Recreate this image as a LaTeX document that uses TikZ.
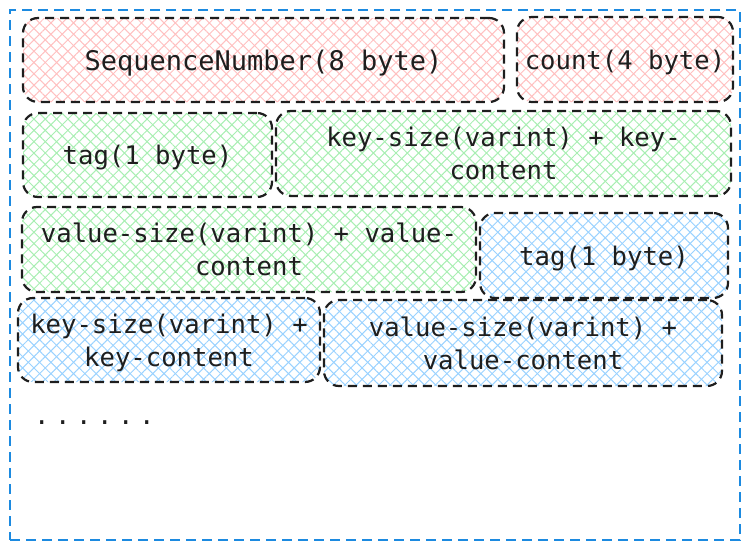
\documentclass[tikz,border=0pt]{standalone}
\usepackage{fontspec}
\setmonofont{DejaVu Sans Mono}
\usetikzlibrary{patterns.meta}
\definecolor{hred}{HTML}{FFC0C0}
\definecolor{hgreen}{HTML}{A8EEB2}
\definecolor{hblue}{HTML}{9AD2FF}
\definecolor{outerblue}{HTML}{1C8AE0}
\definecolor{ink}{HTML}{1E1E1E}
\tikzset{
  field/.style={draw=ink, line width=2.2pt, dash pattern=on 9pt off 6pt,
    rounded corners=15pt, font=\ttfamily\fontsize{25.6}{33}\selectfont,
    align=center, inner sep=0pt, text=ink, text depth=0pt},
  hatch/.style={
    preaction={pattern={Lines[angle=45,distance=8pt,line width=1pt]},pattern color=#1},
    preaction={pattern={Lines[angle=-45,distance=8pt,line width=1pt]},pattern color=#1}},
  outerbox/.style={draw=outerblue, line width=2pt, dash pattern=on 10pt off 6pt},
}
\begin{document}
\begin{tikzpicture}[x=1pt,y=-1pt]
\useasboundingbox (0,0) rectangle (749,549);
\node[outerbox, minimum width=730pt, minimum height=530pt, inner sep=0pt] (frame) at (375,275) {};
\node[field, hatch=hred, minimum width=481pt, minimum height=84pt, font=\ttfamily\fontsize{27}{33}\selectfont] (seq) at (263.5,60) {SequenceNumber(8 byte)};
\node[field, hatch=hred, minimum width=216pt, minimum height=85pt] (cnt) at (625,59.5) {count(4 byte)};
\node[field, hatch=hgreen, minimum width=249pt, minimum height=84pt] (tag1) at (147.5,155) {tag(1 byte)};
\node[field, hatch=hgreen, minimum width=455pt, minimum height=85pt] (key1) at (503.5,153.5) {key-size(varint) + key-\\content};
\node[field, hatch=hgreen, minimum width=454pt, minimum height=85pt] (val1) at (249,249.5) {value-size(varint) + value-\\content};
\node[field, hatch=hblue, minimum width=248pt, minimum height=85pt] (tag2) at (604,255.5) {tag(1 byte)};
\node[field, hatch=hblue, minimum width=302pt, minimum height=84pt] (key2) at (169,340) {key-size(varint) +\\key-content};
\node[field, hatch=hblue, minimum width=398pt, minimum height=86pt] (val2) at (523,343) {value-size(varint) +\\value-content};
\node[font=\ttfamily\fontsize{25.6}{33}\selectfont, text=ink, inner sep=0pt, anchor=west] (dots) at (34,423)
  {.\hspace{5.6pt}.\hspace{5.6pt}.\hspace{5.6pt}.\hspace{5.6pt}.\hspace{5.6pt}.};
\end{tikzpicture}
\end{document}
